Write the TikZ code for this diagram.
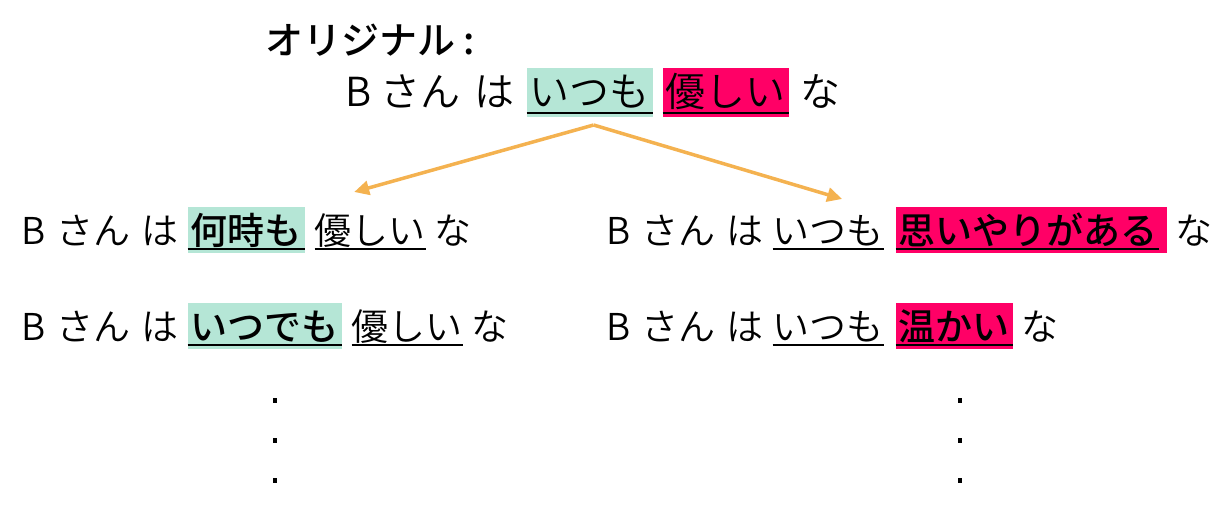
\documentclass[tikz,border=0pt]{standalone}
\usepackage{fontspec}
\newfontfamily\jp{Noto Sans CJK JP DemiLight}
\newfontfamily\jpb{Noto Sans CJK JP Medium}
\usepackage{xcolor}
\usetikzlibrary{arrows.meta,positioning,matrix}

\definecolor{mintbg}{RGB}{181,230,214}
\definecolor{pinkbg}{RGB}{255,0,102}
\definecolor{arrowor}{RGB}{244,178,80}

\newcommand\lowsz{\fontsize{37}{42}\selectfont}
\newcommand\topsz{\fontsize{40}{45}\selectfont}

\begin{document}
\begin{tikzpicture}[
  x=1pt, y=-1pt,
  word/.style={inner xsep=2pt, inner ysep=0pt, outer sep=0pt, text height=38pt, text depth=8pt,
    font=\jp\lowsz},
  mint/.style={word, fill=mintbg, inner xsep=3pt, font=\jpb\lowsz},
  pink/.style={word, fill=pinkbg, inner xsep=3pt, font=\jpb\lowsz},
  plainhl/.style={word, inner xsep=0pt},
  topword/.style={word, text height=39pt, text depth=10pt, font=\jp\topsz},
  title/.style={font=\jpb\fontsize{38}{42}\selectfont, inner sep=0pt},
  uline/.style={line width=2.5pt, draw=black},
  flow/.style={-{Triangle[length=15pt, width=14pt]}, line width=3.5pt, draw=arrowor},
  % each sentence is one row of word nodes
  row/.style={matrix of nodes, nodes={word}, row sep=0pt, column sep=7pt, anchor=base west},
]
\useasboundingbox (0,0) rectangle (1232,521);

% original sentence
\node[title, anchor=west] (ttl) at (265,40) {オリジナル :};
\matrix[row, nodes={topword}, column sep=10pt] (o) at (340,107) {
  B &[-5pt] さん & は & |[inner xsep=3pt, fill=mintbg]| いつも & |[inner xsep=3pt, fill=pinkbg]| 優しい & な \\
};

% left column: replace the first word
\matrix[row] (l1) at (16,245) {
  B & さん & は & |[mint]| 何時も &[3pt] |[plainhl]| 優しい & な \\
};
\matrix[row] (l2) at (16,341) {
  B & さん & は & |[mint]| いつでも &[3pt] |[plainhl]| 優しい & な \\
};

% right column: replace the second word
\matrix[row] (r1) at (601,245) {
  B & さん & は & |[plainhl]| いつも &[5pt] |[pink]| 思いやりがある\hspace*{6pt} & な \\
};
\matrix[row] (r2) at (601,341) {
  B & さん & は & |[plainhl]| いつも &[5pt] |[pink]| 温かい & な \\
};

% underlines (name / gap at the right end)
\foreach \n/\e in {o-1-4/0, o-1-5/0, l1-1-4/0, l1-1-5/0, l2-1-4/0, l2-1-5/0,
                   r1-1-4/0, r1-1-5/8, r2-1-4/0, r2-1-5/0}
  \draw[uline, shorten >=\e pt] ([yshift=4pt]\n.south west) -- ([yshift=4pt]\n.south east);

\draw[flow] ([xshift=4pt, yshift=-8pt]o-1-4.south) -- ([xshift=-16pt, yshift=15pt]l1-1-5.north);
\draw[flow] ([xshift=4pt, yshift=-8pt]o-1-4.south) -- ([xshift=14pt, yshift=8pt]r1-1-4.north);

% more variants below
\foreach \y in {400,440,480} {
  \fill (273,\y-2.5) rectangle ++(4,5);
  \fill (958,\y-2.5) rectangle ++(4,5);
}
\end{tikzpicture}
\end{document}
